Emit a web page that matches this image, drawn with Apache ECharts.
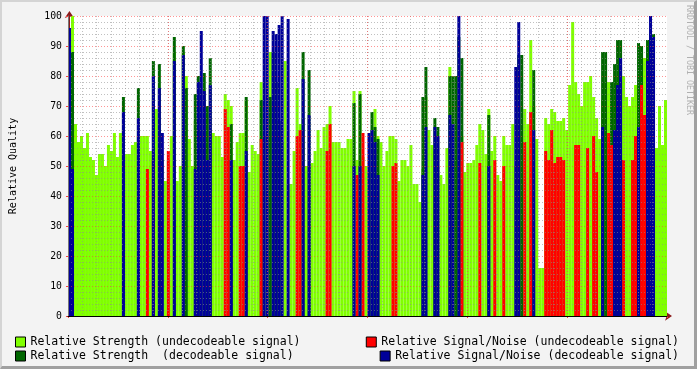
<!DOCTYPE html>
<html><head><meta charset="utf-8">
<script src="https://cdn.jsdelivr.net/npm/echarts@6/dist/echarts.min.js"></script>
<style>
html,body{margin:0;padding:0;background:#f3f3f3;overflow:hidden}
#wrap{position:relative;width:697px;height:369px}
#c{position:absolute;left:0;top:0;width:697px;height:369px}
#frame{position:absolute;left:0;top:0;width:697px;height:369px;box-sizing:border-box;border-style:solid;border-width:2px 3px 3px 2px;border-color:#d4d4d4 #a0a0a0 #a0a0a0 #d4d4d4;pointer-events:none}
</style></head><body>
<div id="wrap"><div id="c"></div><div id="frame"></div></div>
<script>
// ---- data (each bin = one consolidated sample, 200 bins over 42 days) ----
const seriesNames = [
  'Relative Strength (undecodeable signal)',
  'Relative Strength  (decodeable signal)',
  'Relative Signal/Noise (undecodeable signal)',
  'Relative Signal/Noise (decodeable signal)'
];
const weekLabels = ['Week 46','Week 47','Week 48','Week 49','Week 50','Week 51'];

const strengthUndecodeable = [
  69,100,64,58,60,56,61,53,52,47,
  54,54,50,57,55,61,53,61,62,54,
  54,57,58,60,60,60,60,55,54,69,
  54,52,45,52,60,88,45,50,88,80,
  59,50,65,62,62,60,49,61,61,60,
  60,53,74,72,70,52,58,61,61,72,
  48,57,55,54,78,60,60,88,70,65,
  60,58,85,44,44,55,76,64,66,50,
  50,51,55,62,56,63,64,70,58,58,
  58,56,56,59,59,75,52,75,53,50,
  48,48,69,60,58,50,55,60,60,59,
  45,52,52,50,57,44,44,38,49,73,
  62,57,55,50,47,44,56,83,52,52,
  52,60,48,51,51,52,57,64,62,54,
  69,55,60,47,45,60,57,57,64,50,
  64,64,69,64,92,70,59,16,16,66,
  64,69,68,65,65,66,62,77,98,78,
  74,70,78,78,80,73,66,59,72,78,
  78,74,76,80,83,80,73,70,73,77,
  74,88,86,86,86,68,56,70,57,72
];
// [bin, value]
const strengthDecodeable = [
  [1,88],[18,73],[23,76],[28,85],[30,84],[35,93],[38,90],[39,76],[42,74],[43,80],
  [45,81],[46,70],[47,86],[54,64],[59,73],[64,72],[67,73],[68,88],[69,78],[70,65],
  [78,88],[80,82],[95,71],[97,74],[101,68],[102,63],[103,59],[118,73],[119,83],[122,66],
  [123,63],[127,80],[128,80],[129,80],[130,93],[131,86],[140,67],[150,87],[151,87],[155,82],
  [178,88],[179,88],[181,78],[182,84],[183,92],[184,92],[190,91],[191,90],[193,92],[194,94],[195,94]
];
const snUndecodeable = [
  [26,49],[28,52],[33,55],[52,69],[53,63],[57,50],[58,50],[64,59],[76,60],[77,62],
  [86,55],[87,64],[96,47],[98,61],[108,50],[109,51],[131,58],[137,51],[142,52],[145,50],
  [152,58],[154,68],[159,55],[160,52],[161,62],[162,51],[163,53],[164,53],[165,52],[169,57],
  [170,57],[173,56],[175,60],[176,48],[180,61],[181,57],[185,52],[188,52],[189,60],[191,77],[192,67]
];
const snDecodeable = [
  [0,96],[1,49],[18,68],[23,66],[28,80],[30,76],[31,61],[35,85],[38,87],[42,49],
  [43,78],[44,95],[45,75],[46,52],[47,77],[54,52],[59,55],[65,100],[66,100],[68,95],
  [69,94],[70,97],[71,100],[73,99],[78,79],[80,67],[95,50],[97,50],[100,61],[101,62],
  [102,58],[103,47],[118,47],[119,63],[122,63],[123,60],[127,67],[128,64],[130,100],[140,50],
  [149,83],[150,98],[155,62],[178,63],[182,62],[183,77],[184,86],[190,63],[193,85],[194,100],[195,93]
];
const colors = ['#80ff00','#006600','#ff0000','#000099'];

// ---- build ----
const N = strengthUndecodeable.length;
const bins = strengthUndecodeable.map((_, i) => i);
function expand(pairs){ const a = new Array(N).fill(null); pairs.forEach(p => { a[p[0]] = p[1]; }); return a; }
const seriesData = [strengthUndecodeable, expand(strengthDecodeable), expand(snUndecodeable), expand(snDecodeable)];

const MONO = 'DejaVu Sans Mono';
const chart = echarts.init(document.getElementById('c'), null, {renderer:'canvas'});
const gridMinor = {color:'rgba(140,140,140,0.55)', type:[1,2], width:1};
const gridMajor = {color:'rgba(255,60,60,0.55)', type:[1,2], width:1};

function legendFor(i, pos){
  return Object.assign({
    data:[seriesNames[i]], orient:'horizontal', padding:0, itemWidth:10, itemHeight:10, itemGap:0,
    icon:'rect', selectedMode:false,
    itemStyle:{borderColor:'#000', borderWidth:1},
    textStyle:{fontFamily:MONO, fontSize:11.5, color:'#000', padding:[0,0,0,0]}
  }, pos);
}
function weekLabel(v){
  const k = v / 7, r = Math.round(k);
  return (Math.abs(k - r) < 1e-6 && weekLabels[r]) ? weekLabels[r] : '';
}

const option = {
  animation:false,
  backgroundColor:'#f3f3f3',
  grid:{left:67, top:16, width:600, height:300, show:true, backgroundColor:'#ffffff', borderWidth:0, containLabel:false},
  legend:[
    legendFor(0,{left:15, top:336}),
    legendFor(1,{left:15, top:350}),
    legendFor(2,{right:18, top:336}),
    legendFor(3,{right:18, top:350})
  ],
  xAxis:[
    {type:'category', data:bins, boundaryGap:true, position:'bottom', z:6,
     axisLine:{show:true, lineStyle:{color:'#000', width:1}}, axisTick:{show:false}, axisLabel:{show:false}, splitLine:{show:false}},
    {type:'value', min:0, max:1, position:'bottom', z:1,
     axisLine:{show:true, symbol:['none','arrow'], symbolSize:[7,7], symbolOffset:[0,5], lineStyle:{color:'#8b1a1a', width:1}},
     axisTick:{show:false}, axisLabel:{show:false}, splitLine:{show:false}},
    {type:'value', min:-0.1, max:41.9, interval:1, position:'bottom', z:4,
     axisLine:{show:false}, axisTick:{show:false}, axisLabel:{show:false},
     splitLine:{show:true, showMinLine:false, showMaxLine:false, lineStyle:gridMinor}},
    {type:'value', min:-2.1, max:39.9, interval:7, position:'bottom', z:5,
     axisLine:{show:false}, axisTick:{show:true, length:2, lineStyle:{color:'#ff4040'}}, axisLabel:{show:false},
     splitLine:{show:true, showMinLine:false, showMaxLine:false, lineStyle:gridMajor}},
    {type:'value', min:-5.6, max:36.4, interval:7, position:'bottom', z:5,
     axisLine:{show:false}, axisTick:{show:false}, splitLine:{show:false},
     axisLabel:{show:true, showMinLabel:true, showMaxLabel:true, hideOverlap:false, margin:4, color:'#000', fontFamily:MONO, fontSize:9.8,
       formatter:weekLabel}}
  ],
  yAxis:[
    {type:'value', min:0, max:100, interval:10, z:5,
     name:'Relative Quality', nameLocation:'middle', nameRotate:90, nameGap:50,
     nameTextStyle:{fontFamily:MONO, fontSize:10, color:'#000'},
     axisLine:{show:true, lineStyle:{color:'#777', width:1}},
     axisTick:{show:true, length:2, lineStyle:{color:'#ff4040'}},
     axisLabel:{margin:6, color:'#000', fontFamily:MONO, fontSize:9.8},
     splitLine:{show:true, lineStyle:gridMajor},
     minorTick:{show:false, splitNumber:5},
     minorSplitLine:{show:true, lineStyle:gridMinor}},
    {type:'value', min:0, max:100, z:1,
     axisLine:{show:true, symbol:['none','arrow'], symbolSize:[7,7], symbolOffset:[0,5], lineStyle:{color:'#8b1a1a', width:1}},
     axisTick:{show:false}, axisLabel:{show:false}, splitLine:{show:false}, position:'left'}
  ],
  series: seriesData.map((d, i) => ({
    name:seriesNames[i], type:'bar', data:d, xAxisIndex:0, yAxisIndex:0,
    barCategoryGap:'0%', barGap:'-100%', z:2,
    itemStyle:{color:colors[i]}, emphasis:{disabled:true}
  })),
  graphic:[
    {type:'text', x:693, y:5, rotation:-Math.PI/2, silent:true,
     style:{text:'RRDTOOL / TOBI OETIKER', fill:'#b0b0b0', font:'8.3px "DejaVu Sans Mono"', textAlign:'left', textVerticalAlign:'top'}}
  ]
};
chart.setOption(option);
</script></body></html>
